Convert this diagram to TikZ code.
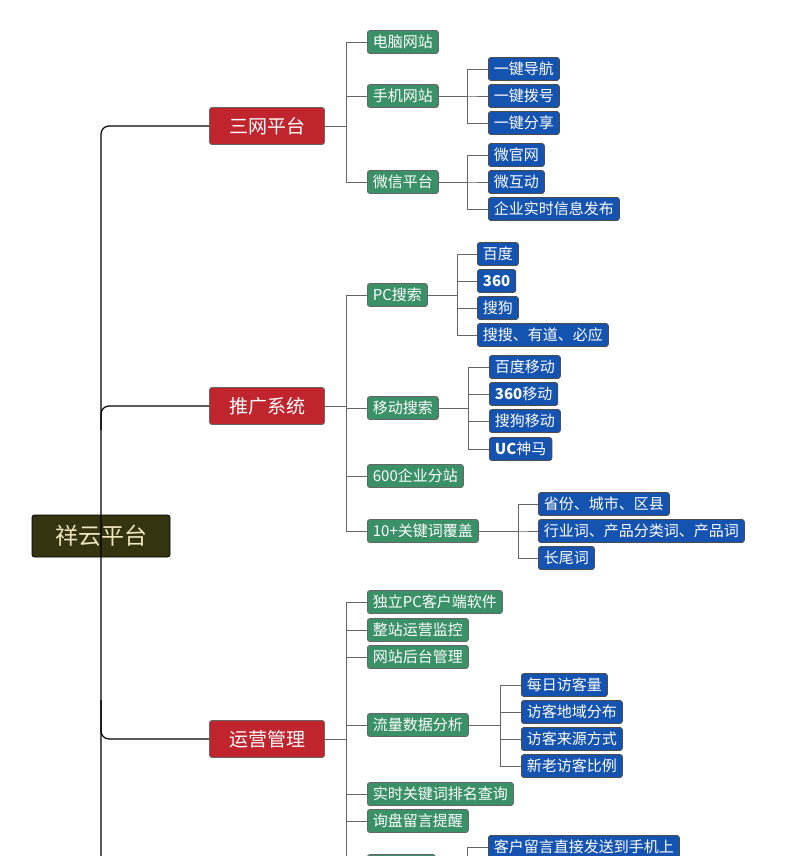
\documentclass[tikz,border=0pt]{standalone}
\usepackage{fontspec}
\setmainfont{Noto Sans CJK SC}
\begin{document}
\begin{tikzpicture}[x=1pt,y=-1pt,
 base/.style={rounded corners=2.5pt,text=white,inner sep=0pt,minimum height=23pt,anchor=west,font=\fontsize{15}{15}\selectfont,inner xsep=5.5pt,line width=0.8pt},
 gn/.style={base,draw=black!60,fill={rgb,255:red,58;green,145;blue,104}},
 bl/.style={base,draw=black!70,fill={rgb,255:red,21;green,83;blue,176}},
 rd/.style={base,minimum height=37pt,minimum width=115pt,font=\fontsize{19}{19}\selectfont,draw=black!60,fill={rgb,255:red,192;green,36;blue,44},anchor=center},
 ln/.style={draw=black!60,line width=0.8pt}]
\useasboundingbox (0,0) rectangle (800,856);
\clip (0,0) rectangle (800,856);
\node[base,anchor=center,minimum width=138pt,minimum height=42pt,font=\fontsize{23}{23}\selectfont,fill={rgb,255:red,52;green,52;blue,16},draw=black,text={rgb,255:red,240;green,230;blue,190}] (root) at (101,536) {祥云平台};
\node[rd] (a) at (267,126) {三网平台};
\node[rd] (b) at (267,406) {推广系统};
\node[rd] (c) at (267,739) {运营管理};
\draw[black,line width=1.2pt,rounded corners=8pt] (a.west) -| (101,880);
\draw[black,line width=1.2pt,rounded corners=8pt] (b.west) -| (101,430);
\draw[black,line width=1.2pt,rounded corners=8pt] (c.west) -| (101,700);
\foreach \n/\y/\t in {a1/42/电脑网站,a2/96/手机网站,a3/182/微信平台,
 b1/295/PC搜索,b2/408/移动搜索,b3/476/600企业分站,b4/531/10+关键词覆盖,
 c1/602/独立PC客户端软件,c2/630/整站运营监控,c3/657/网站后台管理,c4/725/流量数据分析,c5/794/实时关键词排名查询,c6/821/询盘留言提醒}
 \node[gn] (\n) at (367,\y) {\t};
\node[gn,minimum width=68pt] (c7) at (367,866) {};
\foreach \p/\k in {a/a1,a/a2,a/a3,b/b1,b/b2,b/b3,b/b4,c/c1,c/c2,c/c3,c/c4,c/c5,c/c6,c/c7}
 \draw[ln] (\p.east) -- (346,0|-\p.east) |- (\k.west);
\foreach \n/\x/\y/\t in {a21/488/69/一键导航,a22/488/96/一键拨号,a23/488/123/一键分享,
 a31/488/155/微官网,a32/488/182/微互动,a33/488/209/企业实时信息发布,
 b11/477/254/百度,b12/477/281/\textbf{360},b13/477/308/搜狗,b14/477/335/搜搜、有道、必应,
 b21/489/367/百度移动,b22/489/394/\textbf{360}移动,b23/489/421/搜狗移动,b24/489/449/\textbf{UC}神马,
 b41/538/504/省份、城市、区县,b42/538/531/行业词、产品分类词、产品词,b43/538/558/长尾词,
 c41/521/685/每日访客量,c42/521/712/访客地域分布,c43/521/739/访客来源方式,c44/521/766/新老访客比例,
 c71/488/847/客户留言直接发送到手机上}
 \node[bl] (\n) at (\x,\y) {\t};
\foreach \p/\k/\v in {a2/a21/467,a2/a22/467,a2/a23/467,a3/a31/467,a3/a32/467,a3/a33/467,
 b1/b11/457,b1/b12/457,b1/b13/457,b1/b14/457,b2/b21/468,b2/b22/468,b2/b23/468,b2/b24/468,
 b4/b41/518,b4/b42/518,b4/b43/518,c4/c41/500,c4/c42/500,c4/c43/500,c4/c44/500,c7/c71/467}
 \draw[ln] (\p.east) -- (\v,0|-\p.east) |- (\k.west);
\end{tikzpicture}
\end{document}
